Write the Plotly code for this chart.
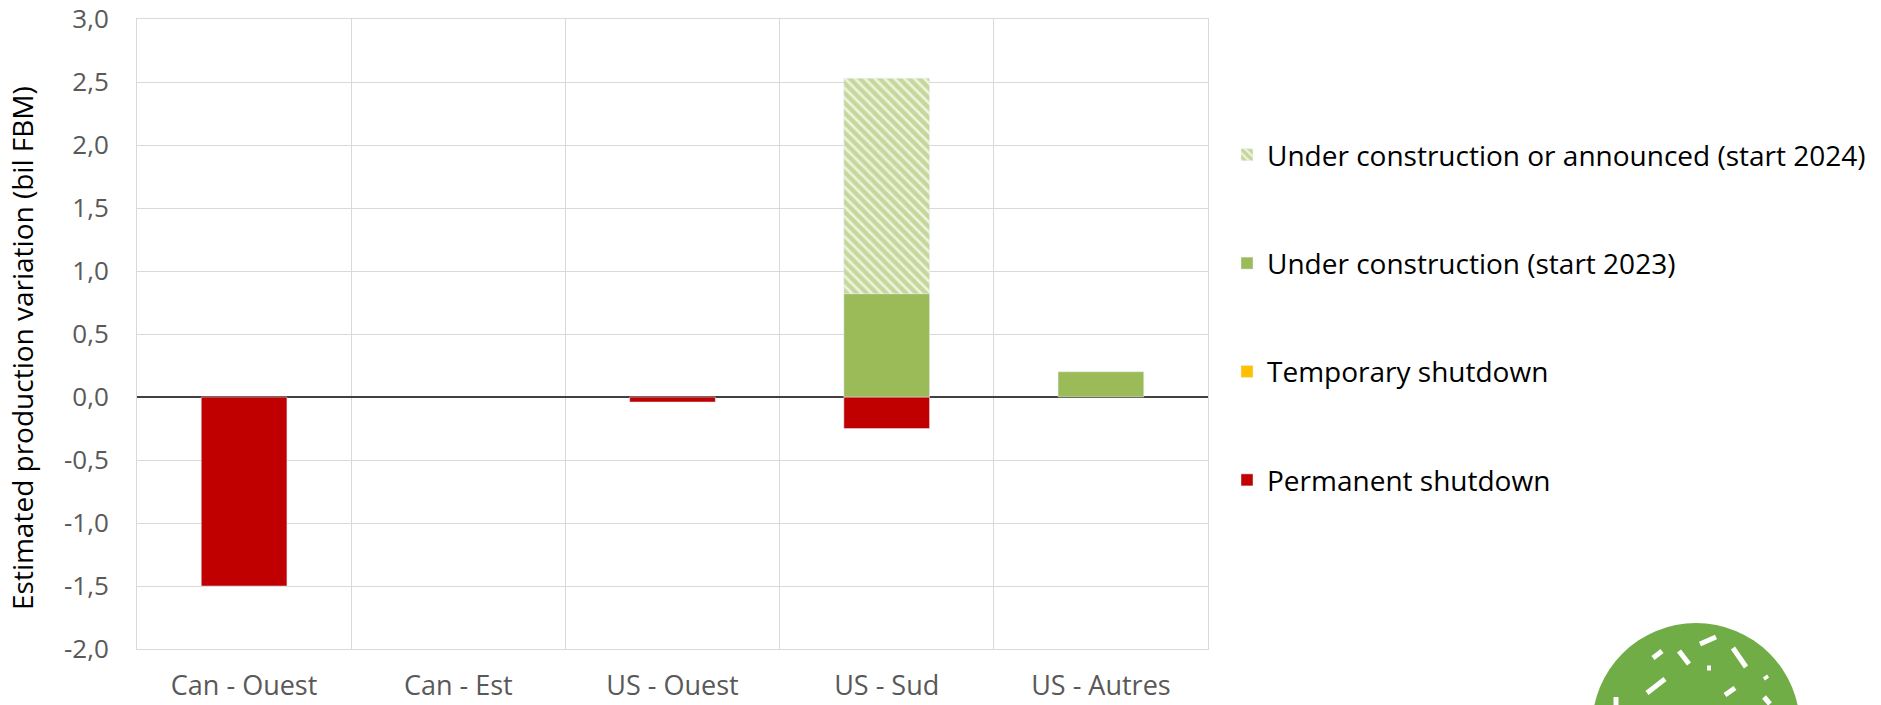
import plotly.graph_objects as go

categories = ["Can - Ouest", "Can - Est", "US - Ouest", "US - Sud", "US - Autres"]
permanent_shutdown = [-1.50, None, -0.04, -0.25, None]
temporary_shutdown = [None, None, None, None, None]
under_construction_2023 = [None, None, None, 0.82, 0.20]
announced_2024 = [None, None, None, 1.71, None]
y_ticks = [-2.0, -1.5, -1.0, -0.5, 0.0, 0.5, 1.0, 1.5, 2.0, 2.5, 3.0]
y_tick_labels = [f"{v:.1f}".replace(".", ",") for v in y_ticks]
y_title = "Estimated production variation (bil FBM)"

RED = "#c00000"
YELLOW = "#ffc000"
GREEN = "#9bbb59"
FONT = "Open Sans"

# page body margin is removed by the post script, so figure pixels == screen pixels
W, H = 1881, 705
PLOT_L, PLOT_T, PLOT_R, PLOT_B = 137, 19, 1208, 649
ML, MT = PLOT_L, PLOT_T
MR, MB = W - PLOT_R, H - PLOT_B
PW, PH = W - ML - MR, H - MT - MB


def px_x(px):
    return (px - ML) / PW


def px_y(py):
    return (H - MB - py) / PH


fig = go.Figure()
fig.add_trace(go.Bar(x=categories, y=permanent_shutdown, name="Permanent shutdown",
                     marker=dict(color=RED), legendgroup="d", legendrank=4))
fig.add_trace(go.Bar(x=categories, y=temporary_shutdown, name="Temporary shutdown",
                     marker=dict(color=YELLOW), legendgroup="c", legendrank=3))
fig.add_trace(go.Bar(x=categories, y=under_construction_2023, name="Under construction (start 2023)",
                     marker=dict(color=GREEN), legendgroup="b", legendrank=2))
fig.add_trace(go.Bar(x=categories, y=announced_2024, name="Under construction or announced (start 2024)",
                     marker=dict(color="#eef3dc",
                                 pattern=dict(shape="\\", fgcolor=GREEN, size=7, solidity=0.62)),
                     legendgroup="a", legendrank=1))

# decorative logo circle (bottom right)
shapes = [dict(type="circle", xref="paper", yref="paper",
               x0=px_x(1592), x1=px_x(1800), y0=px_y(831), y1=px_y(623),
               fillcolor="#70ad47", line=dict(width=0), layer="above")]
dashes = [((1700, 644), (1716, 637)), ((1653, 658), (1662, 651)), ((1679, 651), (1689, 664)),
          ((1707, 668), (1711, 668)), ((1733, 648), (1746, 667)), ((1765, 676), (1767, 679)),
          ((1647, 693), (1665, 679)), ((1725, 695), (1735, 688)), ((1616, 697), (1616, 706)),
          ((1764, 697), (1770, 704))]
for (a, b) in dashes:
    shapes.append(dict(type="line", xref="paper", yref="paper",
                       x0=px_x(a[0]), y0=px_y(a[1]), x1=px_x(b[0]), y1=px_y(b[1]),
                       line=dict(color="white", width=5), layer="above"))

fig.update_layout(
    width=W, height=H,
    margin=dict(l=ML, r=MR, t=MT, b=MB, autoexpand=False),
    paper_bgcolor="white", plot_bgcolor="white",
    barmode="relative", bargap=0.6,
    font=dict(family=FONT, color="#595959"),
    legend=dict(x=px_x(1227), y=px_y(130), xanchor="left", yanchor="top",
                traceorder="grouped", tracegroupgap=69,
                font=dict(family=FONT, size=28, color="black"),
                bgcolor="rgba(0,0,0,0)"),
    shapes=shapes,
    annotations=[dict(text=y_title, textangle=-90, xref="paper", yref="paper",
                      x=px_x(22), y=px_y(348), xanchor="center", yanchor="middle",
                      showarrow=False, font=dict(family=FONT, size=28, color="black"))],
    xaxis=dict(showgrid=True, gridcolor="#d9d9d9", gridwidth=1, tickson="boundaries",
               showline=True, linecolor="#d9d9d9", mirror=True, automargin=False,
               ticks="", ticklabelstandoff=13,
               tickfont=dict(family=FONT, size=27, color="#595959")),
    yaxis=dict(range=[-2, 3], tickvals=y_ticks, ticktext=y_tick_labels,
               showgrid=True, gridcolor="#d9d9d9", gridwidth=1,
               showline=True, linecolor="#d9d9d9", mirror=True, automargin=False,
               zeroline=True, zerolinecolor="#404040", zerolinewidth=1.5,
               ticks="outside", ticklen=22, tickcolor="rgba(0,0,0,0)",
               ticklabeloverflow="allow",
               tickfont=dict(family=FONT, size=26, color="#595959")),
)

fig.write_html("out.html", config={"displayModeBar": False},
               post_script="document.body.style.margin='0';")
